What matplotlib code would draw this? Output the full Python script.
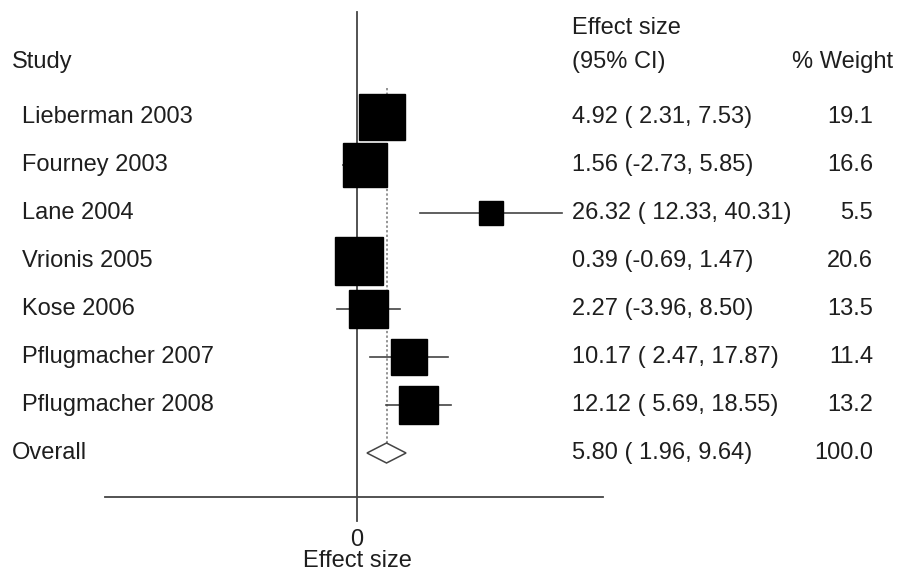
import matplotlib
matplotlib.use("Agg")
from matplotlib import pyplot as plt
from matplotlib.patches import Rectangle, Polygon
import numpy as np

# Data
studies = ["Lieberman 2003", "Fourney 2003", "Lane 2004", "Vrionis 2005",
           "Kose 2006", "Pflugmacher 2007", "Pflugmacher 2008"]
effect = [4.92, 1.56, 26.32, 0.39, 2.27, 10.17, 12.12]
ci_low = [2.31, -2.73, 12.33, -0.69, -3.96, 2.47, 5.69]
ci_high = [7.53, 5.85, 40.31, 1.47, 8.50, 17.87, 18.55]
weight = [19.1, 16.6, 5.5, 20.6, 13.5, 11.4, 13.2]
overall_es, overall_lo, overall_hi, overall_w = 5.80, 1.96, 9.64, 100.0

plt.rcParams['font.family'] = ['Liberation Sans', 'DejaVu Sans']
txt_color = "#1e1e1e"
line_color = "#444444"

W, H = 898, 573
fig = plt.figure(figsize=(W / 100, H / 100), dpi=100)
ax = fig.add_axes([0, 0, 1, 1])

# pixel mapping: x=0 at 357 px, 5.09 px per unit; row 0 at 117 px, 48 px per row
px_per_unit = 5.09
px_per_row = 48.0
x0_px, y0_px = 357, 117
ax.set_xlim(-x0_px / px_per_unit, (W - x0_px) / px_per_unit)
ax.set_ylim((H - y0_px) / px_per_row, -y0_px / px_per_row)
ax.axis("off")

def px2x(p):
    return (p - x0_px) / px_per_unit

def px2y(p):
    return (p - y0_px) / px_per_row

n = len(studies)
rows = np.arange(n)
overall_row = n

# zero line and axis line
ax.plot([0, 0], [px2y(12), px2y(521)], color=line_color, lw=1.3, zorder=1)
ax.plot([px2x(105), px2x(603)], [px2y(497), px2y(497)], color=line_color, lw=1.3, zorder=1)

# dotted line at overall effect
ax.plot([overall_es, overall_es], [px2y(88), overall_row], color="#777777",
        lw=1.1, ls=(0, (1.5, 1.5)), zorder=1)

# studies: CI line + box with area proportional to weight
k = 10.6  # px per sqrt(weight)
for r, es, lo, hi, w in zip(rows, effect, ci_low, ci_high, weight):
    ax.plot([lo, hi], [r, r], color=line_color, lw=1.2, zorder=2)
    side = k * np.sqrt(w)
    bw = side / px_per_unit
    bh = side / px_per_row
    ax.add_patch(Rectangle((es - bw / 2, r - bh / 2), bw, bh,
                           facecolor="black", edgecolor="black", zorder=3))

# overall diamond
dh = 10 / px_per_row
ax.add_patch(Polygon([[overall_lo, overall_row], [overall_es, overall_row - dh],
                      [overall_hi, overall_row], [overall_es, overall_row + dh]],
                     closed=True, facecolor="white", edgecolor=line_color,
                     lw=1.1, zorder=3))

fs = 17
# headers
ax.text(px2x(12), px2y(62), "Study", fontsize=fs, color=txt_color, va="center", ha="left")
ax.text(px2x(572), px2y(28), "Effect size", fontsize=fs, color=txt_color, va="center", ha="left")
ax.text(px2x(572), px2y(62), "(95% CI)", fontsize=fs, color=txt_color, va="center", ha="left")
ax.text(px2x(893), px2y(62), "% Weight", fontsize=fs, color=txt_color, va="center", ha="right")

# rows text
for r, name, es, lo, hi, w in zip(rows, studies, effect, ci_low, ci_high, weight):
    ax.text(px2x(22), r, name, fontsize=fs, color=txt_color, va="center", ha="left")
    ax.text(px2x(572), r, f"{es:.2f} ({lo: .2f}, {hi:.2f})", fontsize=fs,
            color=txt_color, va="center", ha="left")
    ax.text(px2x(873), r, f"{w:.1f}", fontsize=fs, color=txt_color, va="center", ha="right")

ax.text(px2x(12), overall_row, "Overall", fontsize=fs, color=txt_color, va="center", ha="left")
ax.text(px2x(572), overall_row,
        f"{overall_es:.2f} ({overall_lo: .2f}, {overall_hi:.2f})", fontsize=fs,
        color=txt_color, va="center", ha="left")
ax.text(px2x(873), overall_row, f"{overall_w:.1f}", fontsize=fs, color=txt_color,
        va="center", ha="right")

# x axis tick label and title
ax.text(0, px2y(540), "0", fontsize=fs, color=txt_color, va="center", ha="center")
ax.text(0, px2y(561), "Effect size", fontsize=fs, color=txt_color, va="center", ha="center")

fig.savefig("out.png", dpi=100, facecolor="white")
